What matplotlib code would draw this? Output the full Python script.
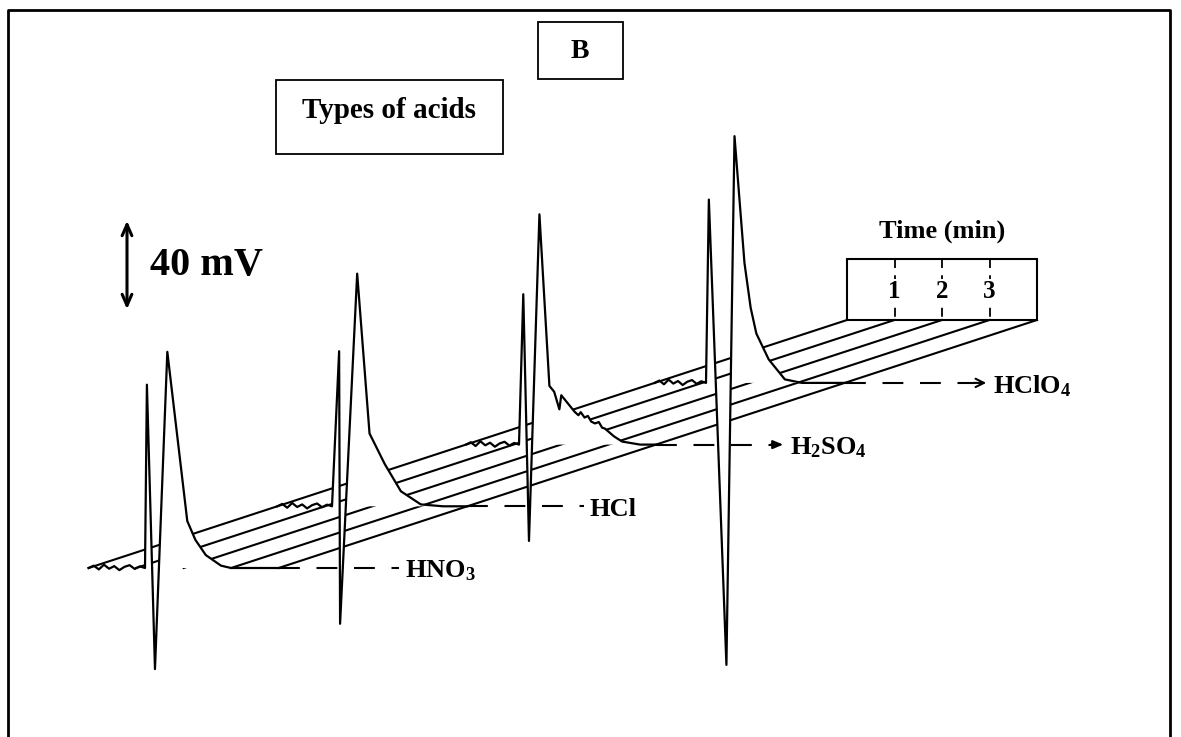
import numpy as np
import matplotlib.pyplot as plt
from matplotlib.patches import Rectangle, Polygon

# Times-like bold text, subscripts via mathtext
plt.rcParams["font.family"] = ["Liberation Serif", "DejaVu Serif"]
plt.rcParams["font.weight"] = "bold"
plt.rcParams["mathtext.fontset"] = "custom"
plt.rcParams["mathtext.rm"] = "Liberation Serif:bold"
plt.rcParams["mathtext.default"] = "rm"

# --------------------------
# data (time in min, signal in mV relative to baseline)
# --------------------------
acids = ["HNO$_3$", "HCl", "H$_2$SO$_4$", "HClO$_4$"]

t_hno3 = [0, 0.04, 0.21, 0.47, 0.89, 1.06, 1.28, 1.60, 1.81]
v_hno3 = [0, 78, -43, 92, 20, 12, 5.5, 1.0, 0]

t_hcl = [0, 0.15, 0.17, 0.53, 0.79, 1.11, 1.45, 1.87, 2.34]
v_hcl = [0, 66, -50, 99, 31, 18, 6.4, 0.8, 0]

t_h2so4 = [0, 0.09, 0.21, 0.43, 0.64, 0.74, 0.85, 0.89, 1.17, 1.25, 1.30,
           1.38, 1.45, 1.52, 1.60, 1.68, 1.75, 1.81, 2.00, 2.17, 2.55]
v_h2so4 = [0, 64, -41, 98, 25, 22.5, 15, 21, 14, 12.5, 13.8,
           11.5, 12.2, 9.8, 9.0, 9.6, 7.2, 6.8, 3.5, 1.3, 0]

t_hclo4 = [0, 0.06, 0.43, 0.60, 0.81, 0.94, 1.06, 1.32, 1.66, 2.02]
v_hclo4 = [0, 78, -120, 105, 51, 32, 21, 10, 1.5, 0]

traces_t = [t_hno3, t_hcl, t_h2so4, t_hclo4]
traces_v = [v_hno3, v_hcl, v_h2so4, v_hclo4]

# baseline noise before injection (mV)
pre_noise = [0, 1.0, -0.6, 1.4, -0.3, 0.8, -0.9, 0.5, 1.2, -0.4, 0.7, 0]

time_ticks = [0, 1, 2, 3, 4]      # min, lines running to the time box
scale_mv = 40                     # scale bar

# --------------------------
# layout (pixels)
# --------------------------
PX_MIN = 47.5
PX_MV = 2.35
SLOPE = 0.327
BOX_LEFT, BOX_TOP, BOX_BOTTOM = 847, 259, 320
FRONT_X, FRONT_Y = 145, 568
STEP_X, STEP_Y = 187, -61.7
label_x = [405, 590, 790, 993]

fig = plt.figure(figsize=(11.81, 7.37), dpi=100)
ax = fig.add_axes([0, 0, 1, 1])
ax.set_xlim(0, 1181)
ax.set_ylim(737, 0)
ax.axis("off")

# outer frame
ax.plot([8, 8, 1170, 1170], [737, 10, 10, 737], color="black", lw=2, zorder=10)

# slanted time lines (floor)
for m in time_ticks:
    xb = BOX_LEFT + m * PX_MIN
    xs = xb - (FRONT_Y - BOX_BOTTOM) / SLOPE
    ax.plot([xs, xb], [FRONT_Y, BOX_BOTTOM], color="black", lw=1.5, zorder=1)

# time box
ax.add_patch(Rectangle((BOX_LEFT, BOX_TOP), time_ticks[-1] * PX_MIN,
                       BOX_BOTTOM - BOX_TOP, fill=False, ec="black", lw=1.5, zorder=5))
for m in time_ticks[1:-1]:
    xb = BOX_LEFT + m * PX_MIN
    ax.plot([xb, xb], [BOX_TOP, BOX_BOTTOM], color="black", lw=1.3,
            dashes=(5, 4), zorder=5)
    ax.text(xb, (BOX_TOP + BOX_BOTTOM) / 2 + 2, str(m), ha="center", va="center",
            fontsize=18, zorder=6,
            bbox=dict(fc="white", ec="none", pad=0.5))
ax.text(BOX_LEFT + 2 * PX_MIN, 231, "Time (min)", ha="center", va="center",
        fontsize=19)

# traces, back to front
for k in reversed(range(len(acids))):
    x0 = FRONT_X + k * STEP_X
    yb = FRONT_Y + k * STEP_Y
    x = x0 + np.array(traces_t[k]) * PX_MIN
    y = yb - np.array(traces_v[k]) * PX_MV

    # white area hides the floor lines behind the peak
    ax.add_patch(Polygon(np.column_stack([x, y]), closed=True, fc="white",
                         ec="none", zorder=2))

    # pre-injection baseline starts where the first time line meets it
    x_pre = BOX_LEFT - (yb - BOX_BOTTOM) / SLOPE
    xn = np.linspace(x_pre, x0, len(pre_noise))
    yn = yb - np.array(pre_noise) * PX_MV

    # post baseline runs to the last time line
    x_end = BOX_LEFT + time_ticks[-1] * PX_MIN - (yb - BOX_BOTTOM) / SLOPE

    xx = np.concatenate([xn, x, [x_end]])
    yy = np.concatenate([yn, y, [yb]])
    ax.plot(xx, yy, color="black", lw=1.6, zorder=4)

    # dashed leader to the acid name
    if k < 2:
        ax.plot([x_end, label_x[k] - 6], [yb, yb], color="black", lw=1.5,
                dashes=(10, 8), zorder=4)
    else:
        style = "-|>,head_length=0.6,head_width=0.25" if k == 2 else "->,head_length=0.6,head_width=0.3"
        ax.plot([x_end, label_x[k] - 18], [yb, yb], color="black", lw=1.5,
                dashes=(10, 8), zorder=4)
        ax.annotate("", xy=(label_x[k] - 4, yb), xytext=(label_x[k] - 22, yb),
                    arrowprops=dict(arrowstyle=style, color="black", lw=1.5),
                    zorder=4)
    ax.text(label_x[k], yb + 3, acids[k], ha="left", va="center", fontsize=19)

# scale bar
bar_top, bar_x = 218, 127
ax.annotate("", xy=(bar_x, bar_top), xytext=(bar_x, bar_top + scale_mv * PX_MV),
            arrowprops=dict(arrowstyle="<->,head_length=0.8,head_width=0.35",
                            color="black", lw=2.2))
ax.text(150, bar_top + scale_mv * PX_MV / 2, f"{scale_mv} mV", ha="left",
        va="center", fontsize=29)

# title boxes
ax.add_patch(Rectangle((276, 80), 227, 74, fill=False, ec="black", lw=1.3))
ax.text(389, 110, "Types of acids", ha="center", va="center", fontsize=21)
ax.add_patch(Rectangle((538, 22), 85, 57, fill=False, ec="black", lw=1.3))
ax.text(580, 51, "B", ha="center", va="center", fontsize=20)

plt.savefig("out.png", dpi=100)
